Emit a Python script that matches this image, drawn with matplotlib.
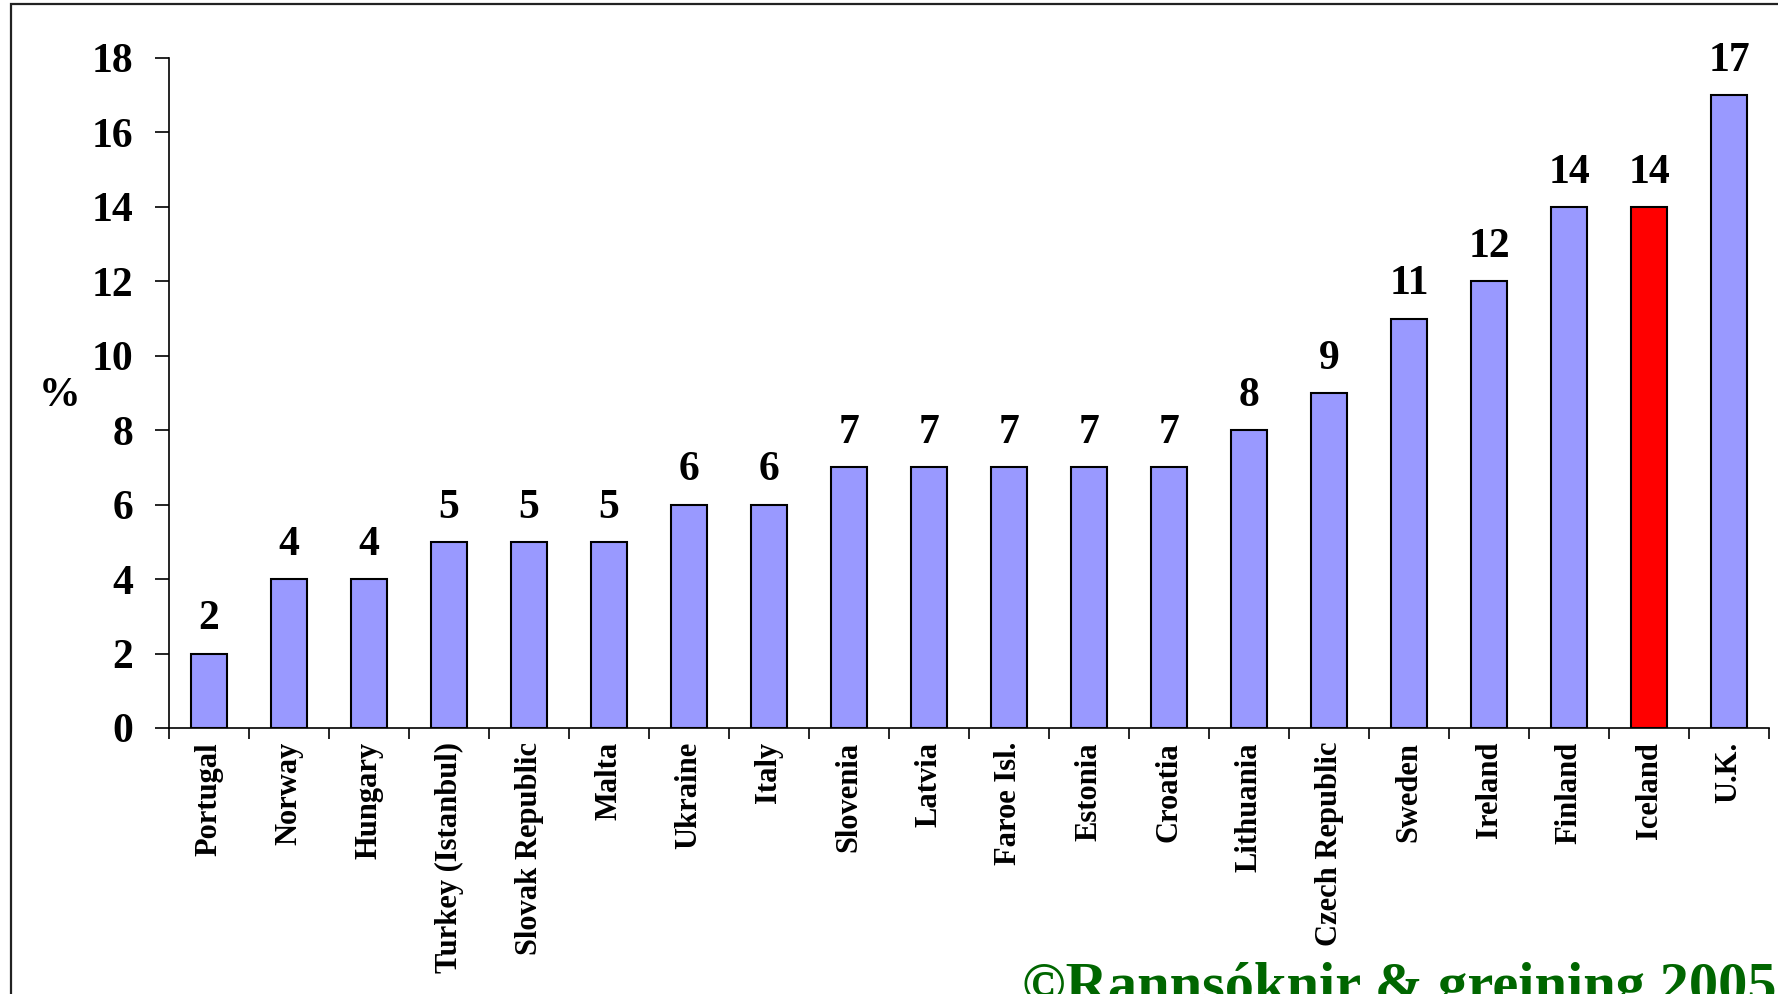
import matplotlib.pyplot as plt
from matplotlib.patches import Rectangle
import numpy as np

# data
countries = ["Portugal", "Norway", "Hungary", "Turkey (Istanbul)", "Slovak Republic",
             "Malta", "Ukraine", "Italy", "Slovenia", "Latvia", "Faroe Isl.",
             "Estonia", "Croatia", "Lithuania", "Czech Republic", "Sweden",
             "Ireland", "Finland", "Iceland", "U.K."]
values = [2, 4, 4, 5, 5, 5, 6, 6, 7, 7, 7, 7, 7, 8, 9, 11, 12, 14, 14, 17]
yticks = [0, 2, 4, 6, 8, 10, 12, 14, 16, 18]
highlight = "Iceland"

plt.rcParams['font.family'] = ['Liberation Serif', 'DejaVu Serif']
plt.rcParams['font.weight'] = 'bold'

fig = plt.figure(figsize=(17.78, 9.94), dpi=100)
W, H = 1778, 994

# slide frame (runs off the right and bottom edges)
fig.patches.append(Rectangle((11 / W, -0.1), 1.2, 1 - 4 / H + 0.1,
                             transform=fig.transFigure, fill=False,
                             edgecolor='#222222', linewidth=1.6))

ax = fig.add_axes([169 / W, 1 - 728 / H, 1600 / W, (728 - 58) / H])

x = np.arange(len(countries))
colors = ['#FF0000' if c == highlight else '#9999FF' for c in countries]
bars = ax.bar(x, values, width=0.44, color=colors, edgecolor='black', linewidth=1.5)

for xi, v in zip(x, values):
    ax.annotate(str(v), (xi, v), xytext=(0, 11), textcoords='offset points',
                ha='center', va='bottom', fontsize=30, fontweight='bold')

ax.set_xlim(-0.5, len(countries) - 0.5)
ax.set_ylim(0, 18)
ax.set_yticks(yticks)
ax.set_yticklabels([str(t) for t in yticks], fontsize=30, fontweight='bold')
ax.tick_params(axis='y', direction='out', length=10, width=1.2, pad=16)

# category labels centred, ticks between categories
ax.set_xticks(x)
ax.set_xticklabels(countries, rotation=90, fontsize=22, fontweight='bold')
ax.tick_params(axis='x', which='major', length=0, pad=10)
ax.set_xticks(np.arange(-0.5, len(countries), 1), minor=True)
ax.tick_params(axis='x', which='minor', direction='out', length=8, width=1.2)

for s in ['top', 'right']:
    ax.spines[s].set_visible(False)
ax.spines['left'].set_linewidth(1.2)
ax.spines['bottom'].set_linewidth(1.2)

fig.text(60 / W, 1 - 396 / H, "%", fontsize=30, fontweight='bold',
         ha='center', va='center')

# copyright line sits partly below the bottom edge, as in the original slide
fig.text(1022 / W, 1 - 1002 / H, "©Rannsóknir & greining 2005", fontsize=42,
         fontweight='bold', color='#006600', ha='left', va='baseline')

fig.savefig("out.png", dpi=100)
